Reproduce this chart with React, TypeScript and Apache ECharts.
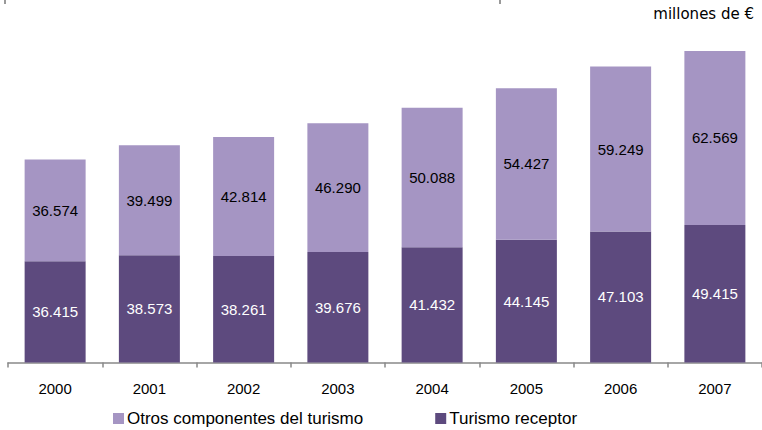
import React, { useEffect, useRef } from "react";
import * as echarts from "echarts";

const years = ["2000", "2001", "2002", "2003", "2004", "2005", "2006", "2007"];
const receptor = [36415, 38573, 38261, 39676, 41432, 44145, 47103, 49415];
const otros = [36574, 39499, 42814, 46290, 50088, 54427, 59249, 62569];
const seriesNames = ["Otros componentes del turismo", "Turismo receptor"];
const unitLabel = "millones de €";

const fmt = (v: number) => {
  const s = String(Math.round(v));
  return s.replace(/\B(?=(\d{3})+(?!\d))/g, ".");
};

const LIGHT = "#A595C3";
const DARK = "#5D4A7E";
const FONT = "'Liberation Sans', Arial, sans-serif";

export default function App() {
  const ref = useRef<HTMLDivElement>(null);
  useEffect(() => {
    if (!ref.current) return;
    const chart = echarts.init(ref.current, null, { renderer: "svg" });
    chart.setOption({
      animation: false,
      backgroundColor: "#ffffff",
      grid: { left: 8, right: -4, top: 28.6, bottom: 67.5, containLabel: false },
      xAxis: {
        type: "category",
        data: years,
        boundaryGap: true,
        axisLine: { lineStyle: { color: "#898989", width: 1.5 } },
        axisTick: { show: true, length: 5, lineStyle: { color: "#898989", width: 1.5 } },
        axisLabel: { color: "#000", fontSize: 15, fontFamily: FONT, margin: 18 },
      },
      yAxis: {
        type: "value",
        min: 0,
        max: 120000,
        show: false,
        splitLine: { show: false },
      },
      legend: {
        data: seriesNames,
        left: 108,
        top: 405,
        itemWidth: 11,
        itemHeight: 11,
        itemGap: 72,
        icon: "rect",
        textStyle: { fontSize: 17, fontFamily: FONT, color: "#000", padding: [0, 0, 0, -2] },
      },
      graphic: [
        {
          type: "text",
          right: 8,
          top: 6,
          style: { text: unitLabel, font: "15px 'DejaVu Sans', Verdana, sans-serif", fill: "#000" },
        },
        { type: "rect", left: 4, top: 0, shape: { width: 2, height: 4 }, style: { fill: "#999" } },
        { type: "rect", left: 499, top: 0, shape: { width: 2, height: 4 }, style: { fill: "#999" } },
      ],
      series: [
        {
          name: seriesNames[1],
          type: "bar",
          stack: "total",
          data: receptor,
          barWidth: 61,
          itemStyle: { color: DARK },
          label: {
            show: true,
            position: "inside",
            color: "#fff",
            fontSize: 15,
            fontFamily: FONT,
            formatter: (p: any) => fmt(p.value),
          },
        },
        {
          name: seriesNames[0],
          type: "bar",
          stack: "total",
          data: otros,
          barWidth: 61,
          itemStyle: { color: LIGHT },
          label: {
            show: true,
            position: "inside",
            color: "#000",
            fontSize: 15,
            fontFamily: FONT,
            formatter: (p: any) => fmt(p.value),
          },
        },
      ],
    });
    return () => chart.dispose();
  }, []);
  return (
    <div
      ref={ref}
      style={{ position: "fixed", left: 0, top: 0, width: 762, height: 430 }}
    />
  );
}
